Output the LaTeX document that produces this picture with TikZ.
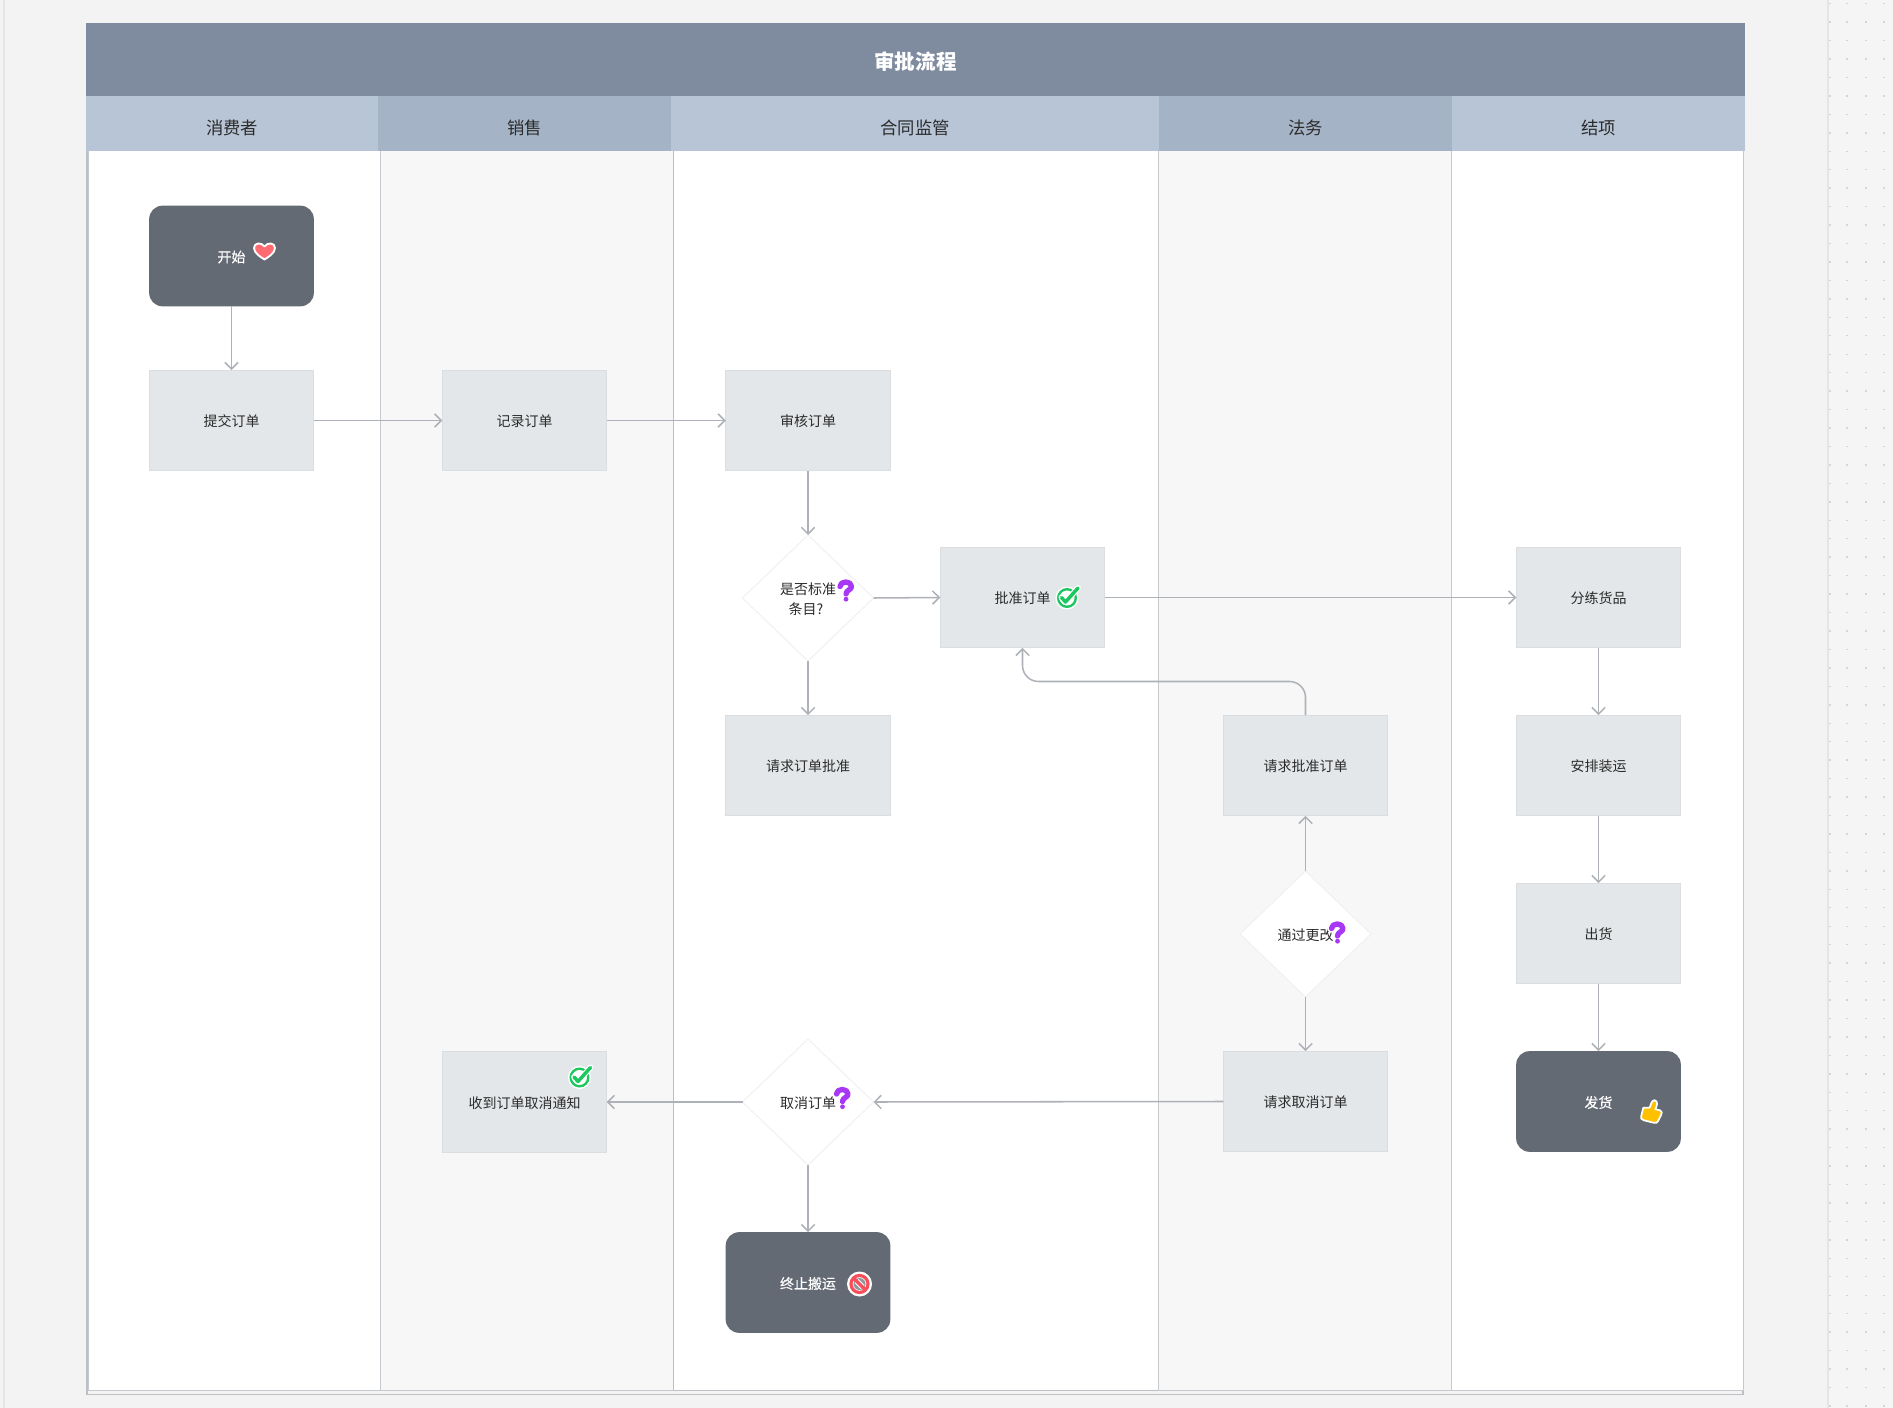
\documentclass[tikz,border=0pt]{standalone}
\usepackage{fontspec}
\setmainfont{Noto Sans CJK SC}
\newfontfamily\medfont[FakeBold=0.25]{Noto Sans CJK SC}
\usetikzlibrary{arrows.meta,shapes.geometric}
\definecolor{pagebg}{HTML}{F3F3F3}
\definecolor{stripbg}{HTML}{F5F5F5}
\definecolor{titlebg}{HTML}{7F8B9F}
\definecolor{headA}{HTML}{B8C5D6}
\definecolor{headB}{HTML}{A5B3C6}
\definecolor{laneline}{HTML}{C6C9CD}
\definecolor{frameline}{HTML}{BCC0C5}
\definecolor{laneB}{HTML}{F7F7F7}
\definecolor{procfill}{HTML}{E4E7E9}
\definecolor{procline}{HTML}{DADEE0}
\definecolor{darkfill}{HTML}{646A74}
\definecolor{flowline}{HTML}{AEB2B8}
\definecolor{inktext}{HTML}{2B2B2B}
\definecolor{qpurple}{HTML}{A938F4}
\definecolor{okgreen}{HTML}{1DC75F}
\definecolor{heartred}{HTML}{FF6B70}
\definecolor{stopred}{HTML}{F8505A}
\definecolor{thumbgold}{HTML}{FFC000}
\tikzset{
  x=0.75pt, y=-0.75pt,
  every node/.style={inner sep=0pt, outer sep=0pt, align=center, text=inktext},
  titlebar/.style={rectangle, fill=titlebg, minimum width=1244.25pt, minimum height=54.75pt, text=white, font=\fontsize{15.4pt}{18pt}\selectfont\bfseries, text height=15.3pt, text depth=0pt},
  lanehead/.style={rectangle, minimum height=41pt, font=\fontsize{13pt}{15pt}\selectfont, text height=17.4pt, text depth=0pt},
  lanebody/.style={rectangle, draw=laneline, line width=0.75pt, anchor=north west, minimum height=929.6pt},
  lowered/.style={text height=9.5pt, text depth=0pt},
  procbox/.style={rectangle, fill=procfill, draw=procline, line width=0.7pt, minimum width=123.3pt, minimum height=75.5pt, font=\fontsize{10.5pt}{16pt}\selectfont, lowered},
  darkbox/.style={rectangle, rounded corners=10pt, fill=darkfill, minimum width=123.5pt, minimum height=75.5pt, text=white, font=\fontsize{10.5pt}{16pt}\medfont\selectfont, lowered},
  decision/.style={diamond, fill=white, draw=black!6, line width=0.7pt, minimum width=98.25pt, minimum height=94.5pt, font=\fontsize{10.5pt}{15.2pt}\selectfont},
  flow/.style={draw=flowline, line width=1.15pt, -{Straight Barb[length=5pt,width=10pt]}},
  hearticon/.pic={
    \path[fill=heartred, draw=white, line width=1.4pt, line join=round]
      (0,8.5) .. controls (-4,6) and (-10.5,2) .. (-10.5,-3) .. controls (-10.5,-8.5) and (-3,-9) .. (0,-4.5)
      .. controls (3,-9) and (10.5,-8.5) .. (10.5,-3) .. controls (10.5,2) and (4,6) .. (0,8.5) -- cycle;
  },
  checkicon/.pic={
    \path[fill=white] (0,0) circle (11.5);
    \path[draw=okgreen, line width=1.8pt] (0,0) circle (8.8);
    \path[draw=white, line width=4.4pt, line join=round, line cap=round] (-5.5,-0.5) -- (-1.5,4) -- (11,-10);
    \path[draw=okgreen, line width=2.6pt, line join=round, line cap=round] (-5.5,-0.5) -- (-1.5,4) -- (11,-10);
  },
  stopicon/.pic={
    \path[fill=white] (0,0) circle (12.5);
    \path[draw=stopred, line width=2.4pt] (0,0) circle (8.5);
    \path[fill=darkfill!70!white] (0,0) circle (6);
    \path[draw=white, line width=1pt] (-4.5,-1.5) -- (1.5,4.5);
    \path[draw=white, line width=1pt] (-1.5,-4.5) -- (4.5,1.5);
    \path[draw=stopred, line width=2.4pt] (-6.5,-6.5) -- (6.5,6.5);
  },
  thumbicon/.pic={
    \path[fill=thumbgold, draw=white, line width=1.3pt, line join=round, rotate=-14]
      (-9.5,-2) -- (-3.5,-3.5) .. controls (-2.5,-7) and (-3.5,-11) .. (-0.5,-12) .. controls (3.5,-12.5) and (3.5,-7) .. (2.5,-3.5)
      -- (7.5,-3.5) .. controls (10,-3.5) and (10,-1) .. (9.5,1) -- (8,7.5) .. controls (7.5,9.5) and (6.5,10) .. (4.5,10)
      -- (-6,10) .. controls (-9,10) and (-9.5,8.5) .. (-9.5,6.5) -- cycle;
  },
  qicon/.pic={
    \path[draw=white, line width=6.6pt, line cap=round, line join=round]
      (-5.5,-4.5) .. controls (-5.5,-10.5) and (6,-10.5) .. (6,-4.5) .. controls (6,-1) and (0.5,-1) .. (0.5,3);
    \path[fill=white] (0.5,8.2) circle (3.8);
    \path[draw=qpurple, line width=4pt, line cap=round, line join=round]
      (-5.5,-4.5) .. controls (-5.5,-10.5) and (6,-10.5) .. (6,-4.5) .. controls (6,-1) and (0.5,-1) .. (0.5,3);
    \path[fill=qpurple] (0.5,8.2) circle (2.4);
  },
}
\begin{document}
\begin{tikzpicture}
\useasboundingbox (0,0) rectangle (1893,1408);
% page
\fill[pagebg] (0,0) rectangle (1893,1408);
\fill[stripbg] (1828,0) rectangle (1893,1408);
\draw[draw=black!10, line width=0.9pt] (4,0) -- (4,1408);
\draw[draw=black!10, line width=0.9pt] (1828,0) -- (1828,1408);
\foreach \dx in {1829.5,1847,1865.7,1884.3}
  \foreach \dn in {0,...,76}
    \fill[black!16] ({\dx-1},{3+18.45*\dn}) rectangle ({\dx+1},{4.4+18.45*\dn});
% frame and lanes
\draw[draw=frameline, line width=1.1pt] (87,151) -- (87,1394.5) -- (1743,1394.5) -- (1743,151);
\node[lanebody, fill=white, minimum width=219pt] (laneA) at (88,151) {};
\node[lanebody, fill=laneB, minimum width=219.75pt] (laneB) at (380,151) {};
\node[lanebody, fill=white, draw=frameline, minimum width=363.75pt] (laneC) at (673,151) {};
\node[lanebody, fill=laneB, minimum width=219.75pt] (laneD) at (1158,151) {};
\node[lanebody, fill=white, minimum width=219pt] (laneE) at (1451,151) {};
% headers
\node[titlebar] (title) at (915.5,59.5) {审批流程};
\node[lanehead, fill=headA, minimum width=219pt] (headA) at (232,123.3) {消费者};
\node[lanehead, fill=headB, minimum width=219.75pt] (headB) at (524.5,123.3) {销售};
\node[lanehead, fill=headA, minimum width=366pt] (headC) at (915,123.3) {合同监管};
\node[lanehead, fill=headB, minimum width=219.75pt] (headD) at (1305.5,123.3) {法务};
\node[lanehead, fill=headA, minimum width=219.75pt] (headE) at (1598.5,123.3) {结项};
% nodes
\node[darkbox] (start) at (231.5,256) {开始};
\node[procbox] (submit) at (231.5,420.5) {提交订单};
\node[procbox] (record) at (524.5,420.5) {记录订单};
\node[procbox] (review) at (808,420.5) {审核订单};
\node[decision] (std) at (808,598) {\rule{0pt}{11pt}是否标准\\条目?\hspace*{3pt}};
\node[procbox] (approve) at (1022.5,597.5) {批准订单};
\node[procbox] (askappr) at (808,765.5) {请求订单批准};
\node[procbox] (sort) at (1598.5,597.5) {分练货品};
\node[procbox] (arrange) at (1598.5,765.5) {安排装运};
\node[procbox] (ship) at (1598.5,933.5) {出货};
\node[darkbox] (deliver) at (1598.5,1101.5) {发货};
\node[procbox] (reqok) at (1305.5,765.5) {请求批准订单};
\node[decision, lowered] (pass) at (1305.5,934) {通过更改};
\node[procbox] (reqcancel) at (1305.5,1101.5) {请求取消订单};
\node[decision, lowered] (cancel) at (808,1102) {取消订单};
\node[procbox] (notice) at (524.5,1102) {收到订单取消通知};
\node[darkbox] (stopnode) at (808,1282.5) {终止搬运};
% connectors
\draw[flow] (start.south) -- (submit.north);
\draw[flow] (submit.east) -- (record.west);
\draw[flow] (record.east) -- (review.west);
\draw[flow] (review.south) -- (std.north);
\draw[flow] (std.east) -- (approve.west);
\draw[flow] (std.south) -- (askappr.north);
\draw[flow] (approve.east) -- (sort.west);
\draw[flow] (sort.south) -- (arrange.north);
\draw[flow] (arrange.south) -- (ship.north);
\draw[flow] (ship.south) -- (deliver.north);
\coordinate (bend) at (1305.5,681.5);
\draw[flow, rounded corners=12pt] (reqok.north) -- (bend) -| (approve.south);
\draw[flow] (pass.north) -- (reqok.south);
\draw[flow] (pass.south) -- (reqcancel.north);
\draw[flow] (reqcancel.west) -- (cancel.east);
\draw[flow] (cancel.west) -- (notice.east);
\draw[flow] (cancel.south) -- (stopnode.north);
% icons
\pic at (264.5,251) {hearticon};
\pic at (1067,598) {checkicon};
\pic at (579.5,1077.5) {checkicon};
\pic at (845.5,591) {qicon};
\pic at (1337,933) {qicon};
\pic at (842,1098.5) {qicon};
\pic at (859.5,1284) {stopicon};
\pic at (1652,1112) {thumbicon};
\end{tikzpicture}
\end{document}
